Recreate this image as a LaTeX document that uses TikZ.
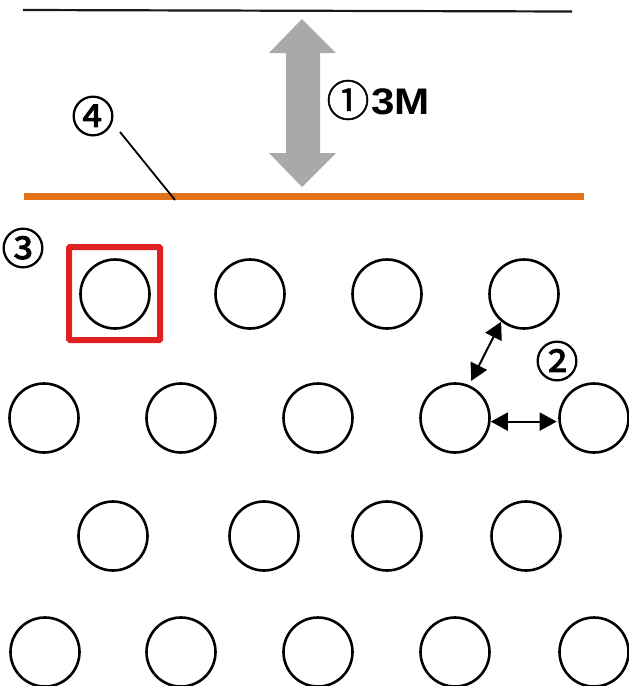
\documentclass[tikz,border=0pt]{standalone}
\usepackage{fontspec}
\setmainfont{Liberation Sans}
\newfontfamily\cjkfont{Noto Sans CJK JP}
\newfontfamily\latmed[FakeStretch=1.14]{Liberation Sans Bold}
\newcommand{\heavytext}[2]{\special{pdf:code q 0 G 2 Tr #1 w}#2\special{pdf:code Q}}
\usetikzlibrary{arrows.meta}
\definecolor{grayarrow}{HTML}{A9A9A9}
\definecolor{orangeline}{HTML}{E2711A}
\definecolor{redbox}{HTML}{E02020}
\tikzset{
  atom/.style={circle,draw=black,line width=2.6pt,minimum size=69pt,inner sep=0pt,outer sep=0pt},
  tag/.style={inner sep=0pt,outer sep=0pt,font=\cjkfont\fontsize{43}{43}\selectfont},
  gap/.style={line width=2pt,{Triangle[length=17pt,width=18pt]}-{Triangle[length=17pt,width=18pt]}}
}
\begin{document}
\begin{tikzpicture}[x=1pt,y=-1pt]
\useasboundingbox (0,0) rectangle (629,686);
% lines
\coordinate (topL) at (23,10);
\coordinate (topR) at (572,11.5);
\coordinate (orL) at (24,196);
\coordinate (orR) at (584,196);
\coordinate (leadA) at (120,132);
\coordinate (leadB) at (175,200);
\draw[line width=2.2pt,black!90] (topL) -- (topR);
\draw[line width=7pt,orangeline] (orL) -- (orR);
\draw[line width=1.8pt] (leadA) -- (leadB);
% grey double arrow
\fill[grayarrow] (302,19) -- (336,53) -- (320,53) -- (320,153) -- (336,153) -- (302,187)
  -- (269,153) -- (286,153) -- (286,53) -- (269,53) -- cycle;
% labels
\node[tag] (one) at (348,100) {\heavytext{0.5}{①}};
\node[anchor=west,inner sep=0pt,font=\latmed\fontsize{37}{37}\selectfont] (threeM) at (371,102) {3M};
\node[tag] (two) at (557,361) {\heavytext{0.9}{②}};
\node[tag] (three) at (23,248) {\heavytext{0.9}{③}};
\node[tag] (four) at (93,116) {\heavytext{0.9}{④}};
% atoms
\foreach \n/\x/\y in {a1/115/294,a2/250/294,a3/387/294,a4/524/294,
  b1/44/418,b2/181/418,b3/318/418,b4/455/418,b5/594/418,
  c1/113/536,c2/264/536,c3/387/536,c4/526/536,
  d1/45/652,d2/181/652,d3/318/652,d4/455/652,d5/594/652}
  \node[atom] (\n) at (\x,\y) {};
% red box
\node[draw=redbox,line width=6pt,rounded corners=1pt,minimum width=91pt,minimum height=93pt,inner sep=0pt] (box) at (114.5,293.5) {};
% spacing arrows
\draw[gap,shorten <=1.5pt,shorten >=6pt] (a4.230) -- (b4.67);
\draw[gap,shorten <=1.5pt,shorten >=3pt] (b4.-6) -- (b5.186);
\end{tikzpicture}
\end{document}
